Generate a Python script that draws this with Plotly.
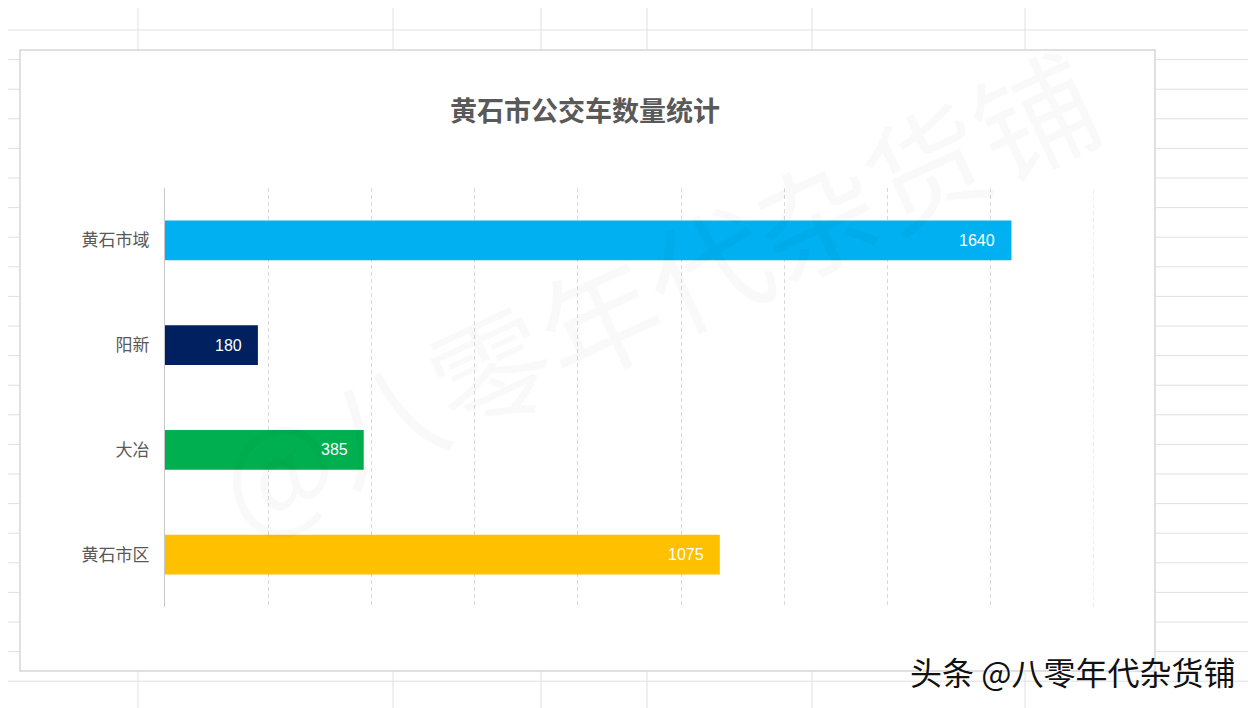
import plotly.graph_objects as go

# ---- data ----
categories = ["黄石市域", "阳新", "大冶", "黄石市区"]
values = [1640, 180, 385, 1075]
bar_colors = ["#00B0F0", "#002060", "#00B050", "#FFC000"]
x_max = 1800
x_step = 200
title_text = "黄石市公交车数量统计"
watermark_text = "@八零年代杂货铺"
footer_text = "头条 @八零年代杂货铺"

# page shows the figure offset by the default 8px body margin
OFF = 8
W, H = 1256 - OFF, 708 - OFF
L, R, T, B = 165 - OFF, 1094 - OFF, 188 - OFF, 607 - OFF


def px(x):
    return (x - OFF - L) / (R - L)


def py(y):
    return (B - (y - OFF)) / (B - T)


FONT = "Noto Sans CJK SC, Microsoft YaHei, sans-serif"
NUMFONT = "Liberation Sans, Arial, sans-serif"

fig = go.Figure()
fig.add_trace(go.Bar(
    y=categories,
    x=values,
    orientation="h",
    marker=dict(color=bar_colors, line=dict(width=0)),
    hoverinfo="skip",
))

shapes = []
# spreadsheet background grid
row_y = [0.4 + 29.6 * k for k in range(24)]
for yy in row_y:
    shapes.append(dict(type="line", xref="paper", yref="paper", layer="below",
                       x0=px(0), x1=px(1256), y0=py(yy), y1=py(yy),
                       line=dict(color="#e0e0e0", width=1)))
for xx in [138, 393, 541, 647, 812, 1025]:
    shapes.append(dict(type="line", xref="paper", yref="paper", layer="below",
                       x0=px(xx), x1=px(xx), y0=py(0), y1=py(708),
                       line=dict(color="#e0e0e0", width=1)))
# chart box
shapes.append(dict(type="rect", xref="paper", yref="paper", layer="below",
                   x0=px(20), x1=px(1155), y0=py(50), y1=py(671),
                   fillcolor="white", line=dict(color="#d6d6d6", width=1.5)))
# last gridline at the right edge of the plot area (plotly skips it)
shapes.append(dict(type="line", xref="x", yref="paper", layer="below",
                   x0=x_max, x1=x_max, y0=0, y1=1,
                   line=dict(color="#d9d9d9", width=1, dash="4px,3px")))

annotations = [
    dict(text="<b>" + title_text + "</b>", xref="paper", yref="paper",
         x=px(585), y=py(110), xanchor="center", yanchor="middle", showarrow=False,
         font=dict(size=27, color="#595959", family=FONT)),
    dict(text=watermark_text, xref="paper", yref="paper",
         x=px(655), y=py(288), xanchor="center", yanchor="middle", showarrow=False,
         textangle=-25, font=dict(size=120, color="rgba(0,0,0,0.022)", family=FONT)),
    dict(text=footer_text, xref="paper", yref="paper",
         x=px(1237), y=py(671), xanchor="right", yanchor="middle", showarrow=False,
         font=dict(size=32, color="#111111", family=FONT, shadow="1px 1px 1px #ffffff")),
]
# data labels inside bar ends
for c, v in zip(categories, values):
    annotations.append(dict(text=str(v), x=v, y=c, xref="x", yref="y",
                            xanchor="right", yanchor="middle", xshift=-14,
                            showarrow=False,
                            font=dict(size=16, color="white", family=NUMFONT)))

fig.update_layout(
    width=W, height=H,
    margin=dict(l=L, r=W - R, t=T, b=H - B, pad=0),
    paper_bgcolor="white",
    plot_bgcolor="rgba(0,0,0,0)",
    showlegend=False,
    bargap=0.62,
    shapes=shapes,
    annotations=annotations,
    font=dict(family=FONT),
)
fig.update_xaxes(range=[0, x_max], dtick=x_step, tick0=0, showgrid=True,
                 gridcolor="#d9d9d9", griddash="4px,3px", gridwidth=1,
                 showticklabels=False, zeroline=False, showline=False, ticks="")
fig.update_yaxes(autorange="reversed", showgrid=False, showline=True,
                 linecolor="#c8c8c8", linewidth=1, ticks="", ticklabelstandoff=11,
                 tickfont=dict(size=17, color="#595959", family=FONT))

fig.write_html("out.html")
